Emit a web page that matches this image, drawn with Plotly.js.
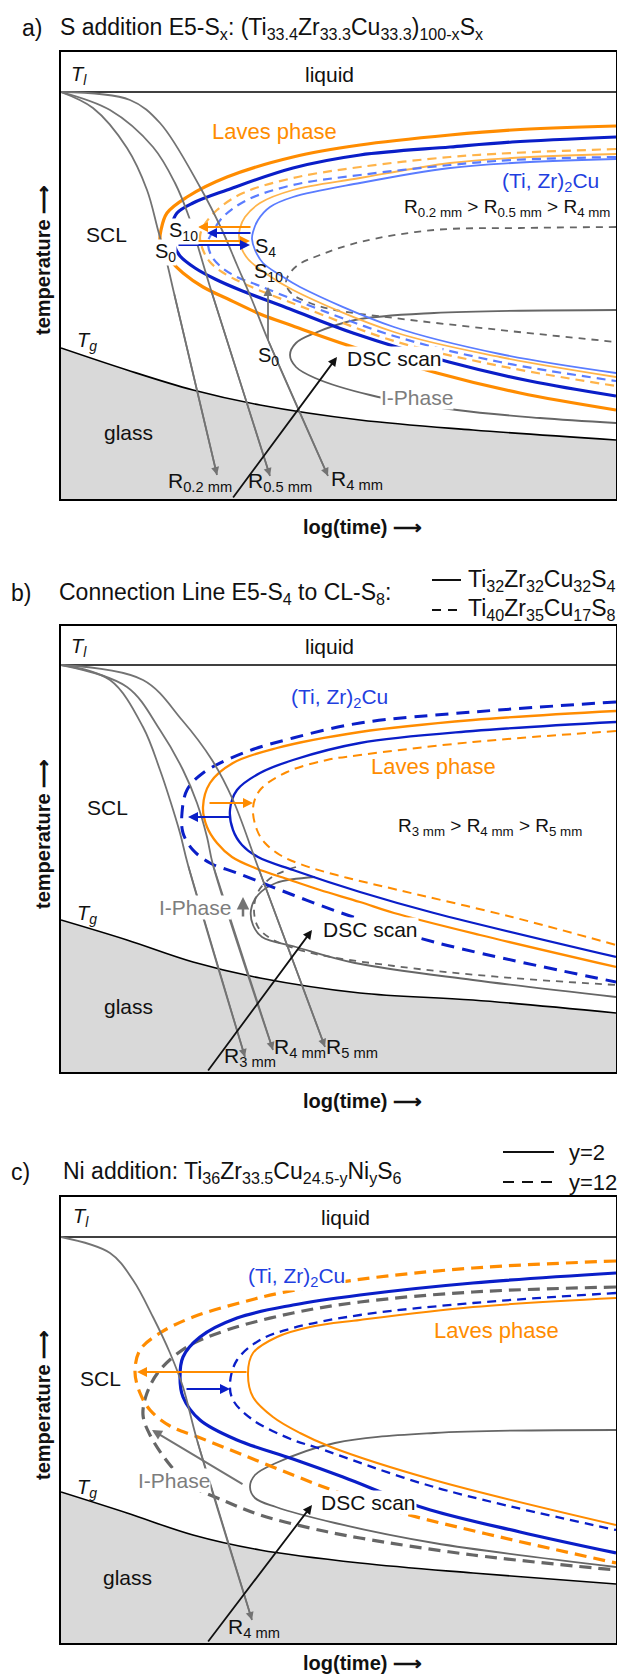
<!DOCTYPE html>
<html><head><meta charset="utf-8">
<script src="https://cdn.plot.ly/plotly-3.0.1.min.js"></script>
<style>html,body{margin:0;padding:0;background:#fff}</style>
</head><body><div id="chart" style="width:617px;height:1676px"></div>
<script>
// ================= DATA (schematic TTT diagrams, arbitrary units: log(time) 0..555, temperature 0..447) =================
// ---- Panel a: S addition ----
const aLiquidT = 407;
const aTg      = [[0,151],[66,129],[132,109],[199,94],[299,79],[412,69],[555,59]];
const aCoolR02 = [[0,407],[32,391],[66,351],[86,309],[97,269],[106,236],[113,206],[156,24]];
const aCoolR05 = [[0,407],[49,389],[92,352],[114,316],[128,282],[138,249],[150,209],[209,23]];
const aCoolR4  = [[0,407],[69,399],[99,376],[139,312],[161,269],[176,234],[191,199],[207,159],[267,23]];
const aLavesS0 = [[555,373],[451,369],[389,364],[299,354],[232,342],[166,322],[126,302],[106,286],[100,269],[99,259],[102,249],[109,239],[122,226],[142,212],[169,199],[199,185],[232,173],[286,154],[376,126],[459,106],[555,89]];
const aTi2CuS0 = [[555,362],[451,357],[389,352],[299,344],[232,331],[166,309],[132,296],[116,286],[111,274],[111,264],[113,254],[119,243],[134,231],[154,220],[179,209],[229,190],[292,166],[388,137],[469,118],[555,103]];
const aLavesS10= [[555,350],[451,346],[389,342],[299,332],[232,321],[182,306],[156,289],[142,272],[139,262],[142,249],[149,237],[161,227],[186,214],[239,193],[333,158],[439,133],[555,113]];
const aTi2CuS10= [[555,342],[451,339],[389,334],[299,324],[232,314],[186,299],[162,282],[151,266],[147,257],[150,244],[159,233],[174,223],[199,213],[239,197],[333,163],[439,137],[555,118]];
const aLavesS4 = [[555,345],[451,341],[389,336],[299,321],[232,309],[199,296],[184,282],[179,271],[178,263],[180,252],[187,240],[204,226],[232,209],[333,167],[439,142],[555,122]];
const aTi2CuS4 = [[555,340],[451,336],[389,331],[299,316],[232,302],[209,292],[197,279],[192,267],[191,260],[194,249],[202,236],[219,224],[239,212],[333,172],[439,145],[555,126]];
const aIphaseS0  = [[555,189],[373,186],[294,179],[254,166],[235,156],[229,144],[235,132],[254,121],[309,104],[396,89],[479,81],[555,76]];
const aIphaseS10 = [[555,272],[459,271],[373,269],[299,257],[259,244],[237,234],[227,223],[225,215],[231,205],[249,196],[274,189],[333,181],[439,169],[555,157]];
const aArrLavesBack = [[191,272],[137,272]];
const aArrTi2CuBack = [[191,266],[146,266]];
const aArrLavesFwd  = [[101,258],[189,258]];
const aArrTi2CuFwd  = [[116,254],[189,254]];
const aArrIphase    = [[207,157],[207,212]];
const aDSC          = [[171,0],[276,142]];

// ---- Panel b: connection line E5-S4 to CL-S8 ----
const bLiquidT = 407;
const bTg      = [[0,152],[66,132],[132,110],[199,94],[299,79],[412,72],[555,59]];
const bCoolR3  = [[0,407],[49,392],[82,345],[99,302],[109,272],[119,239],[127,207],[184,15]];
const bCoolR4  = [[0,407],[66,385],[99,342],[122,302],[136,269],[146,235],[152,207],[212,22]];
const bCoolR5  = [[0,407],[82,392],[121,352],[151,312],[172,272],[197,205],[264,25]];
const bTi2CuS8 = [[555,370],[412,360],[299,349],[232,334],[182,319],[142,299],[126,282],[121,259],[122,239],[132,222],[149,209],[176,199],[232,177],[292,155],[373,130],[555,90]];
const bLavesS4 = [[555,361],[412,352],[299,340],[216,324],[172,309],[149,289],[142,265],[146,245],[156,229],[171,215],[194,204],[229,192],[259,182],[299,170],[333,159],[419,137],[555,105]];
const bTi2CuS4 = [[555,350],[412,341],[299,329],[232,312],[199,299],[176,282],[169,262],[172,242],[181,227],[197,215],[232,202],[299,180],[373,159],[555,115]];
const bLavesS8 = [[555,341],[412,330],[299,317],[266,312],[226,300],[199,282],[192,264],[196,242],[204,229],[219,217],[239,208],[279,196],[333,183],[451,155],[555,127]];
const bIphaseS4 = [[254,195],[215,189],[197,177],[190,162],[192,147],[201,135],[235,125],[294,109],[412,92],[555,75]];
const bIphaseS8 = [[235,205],[211,195],[197,180],[193,162],[197,145],[209,134],[246,120],[333,106],[439,95],[555,87]];
const bArrLaves  = [[147,269],[192,269]];
const bArrTi2Cu  = [[171,255],[127,255]];
const bArrIphase = [[182,154],[182,175]];
const bDSC       = [[146,0],[251,142]];

// ---- Panel c: Ni addition ----
const cLiquidT = 406;
const cTg      = [[0,151],[66,130],[132,108],[199,93],[299,80],[412,70],[555,59]];
const cCoolR4  = [[0,406],[49,390],[72,363],[92,326],[109,290],[122,256],[136,203],[191,23]];
const cLavesY12  = [[555,382],[412,375],[294,363],[219,350],[182,341],[132,326],[99,310],[79,293],[74,271],[79,250],[89,233],[109,217],[137,206],[182,188],[232,168],[279,150],[341,130],[439,106],[555,80]];
const cIphaseY12 = [[555,356],[412,351],[299,341],[232,330],[166,313],[126,296],[99,273],[86,250],[82,228],[89,208],[109,178],[129,158],[166,141],[199,128],[249,115],[299,105],[412,88],[555,73]];
const cTi2CuY2   = [[555,370],[412,360],[299,348],[232,338],[176,325],[139,306],[122,286],[119,266],[122,246],[139,223],[176,203],[232,184],[282,166],[363,135],[459,111],[555,90]];
const cTi2CuY12  = [[555,350],[412,340],[299,328],[232,315],[199,303],[176,283],[169,260],[172,243],[192,223],[232,203],[254,196],[373,156],[555,113]];
const cLavesY2   = [[555,345],[412,336],[299,323],[249,316],[216,306],[192,290],[187,270],[192,246],[212,226],[239,210],[270,196],[373,163],[555,118]];
const cIphaseY2  = [[555,213],[373,210],[274,200],[215,180],[194,168],[189,156],[194,145],[215,136],[274,120],[373,100],[555,76]];
const cArrLaves  = [[187,271],[76,271]];
const cArrTi2Cu  = [[124,254],[169,254]];
const cArrIphase = [[183,158],[91,213]];
const cDSC       = [[146,0],[251,138]];

// ================= STYLE / LAYOUT =================
const W = 617, H = 1676, ML = 61, MR = 1;
const px = p => (p - ML) / (W - ML - MR);
const py = p => 1 - p / H;
const FONT = 'Liberation Sans, Arial, sans-serif';
const OR = '#ff8c00', ORL = '#ffb44a', BL = '#0a1ec8', BLL = '#5a7cff', GR = '#666666', GC = '#737373';
const TXTBL = '#1f3fe0', TXTGR = '#7d7d7d';

const traces = [];
const ann = [];
const shapes = [];
const ax = k => k === 1 ? ['x','y'] : ['x'+k,'y'+k];

function line(pts, color, width, dash, k, extra) {
  const [xa, ya] = ax(k);
  traces.push(Object.assign({
    x: pts.map(p => p[0]), y: pts.map(p => p[1]), xaxis: xa, yaxis: ya,
    mode: 'lines', line: {color, width, dash: dash || 'solid', shape: 'spline', smoothing: 1},
    hoverinfo: 'skip', showlegend: false
  }, extra || {}));
}
function arrow(seg, color, width, k, size) {
  const [xa, ya] = ax(k);
  ann.push({x: seg[1][0], y: seg[1][1], ax: seg[0][0], ay: seg[0][1], xref: xa, yref: ya, axref: xa, ayref: ya,
    text: '', showarrow: true, arrowhead: 2, arrowsize: size || 1, arrowwidth: width, arrowcolor: color, standoff: 0});
}
function headOf(pts, color, width, k) {
  arrow([pts[pts.length-2], pts[pts.length-1]], color, width, k, 1);
}
function lab(text, x, y, k, o) {
  const [xa, ya] = ax(k);
  o = o || {};
  ann.push({x, y, xref: xa, yref: ya, text, showarrow: false,
    font: {family: FONT, size: o.size || 20, color: o.color || '#111'},
    bgcolor: o.bg || 'rgba(0,0,0,0)', borderpad: 0, xanchor: o.xa || 'center', yanchor: 'middle'});
}
function plab(text, x, y, o) {
  o = o || {};
  ann.push({x: px(x), y: py(y), xref: 'paper', yref: 'paper', text, showarrow: false,
    font: {family: FONT, size: o.size || 20, color: o.color || '#111'},
    xanchor: o.xa || 'left', yanchor: 'middle', textangle: o.angle || 0});
}

// ---------- draw panel a ----------
line(aTg, '#000', 1.6, 'solid', 1, {fill: 'tozeroy', fillcolor: '#d9d9d9'});
line([[0,aLiquidT],[555,aLiquidT]], '#000', 1.6, 'solid', 1);
line(aIphaseS0, GR, 1.8, 'solid', 1);
line(aIphaseS10, GR, 1.8, '7px,6px', 1);
line(aTi2CuS4, BLL, 1.8, 'solid', 1);
line(aLavesS4, ORL, 1.8, 'solid', 1);
line(aTi2CuS10, BLL, 2.2, '9px,6px', 1);
line(aLavesS10, ORL, 2.2, '9px,6px', 1);
line(aTi2CuS0, BL, 3.2, 'solid', 1);
line(aLavesS0, OR, 3.2, 'solid', 1);
[aCoolR02, aCoolR05, aCoolR4].forEach(c => { line(c, GC, 1.8, 'solid', 1); headOf(c, GC, 1.6, 1); });
arrow(aArrLavesBack, OR, 2, 1); arrow(aArrTi2CuBack, BL, 2, 1);
arrow(aArrLavesFwd, OR, 2, 1); arrow(aArrTi2CuFwd, BL, 2, 1);
arrow(aArrIphase, GC, 1.8, 1); arrow(aDSC, '#111', 1.8, 1);
lab('<i>T<sub>l</sub></i>', 18, 423, 1, {size: 20});
lab('liquid', 268, 424, 1, {size: 21});
lab('SCL', 45, 264, 1, {size: 21});
lab('<i>T<sub>g</sub></i>', 26, 157, 1, {size: 20});
lab('glass', 67, 66, 1, {size: 21});
lab('Laves phase', 213, 367, 1, {size: 22, color: OR});
lab('(Ti, Zr)<sub>2</sub>Cu', 489, 317, 1, {size: 21, color: TXTBL});
lab('R<sub>0.2 mm</sub> > R<sub>0.5 mm</sub> > R<sub>4 mm</sub>', 446, 291, 1, {size: 19});
lab('S<sub>10</sub>', 122, 267, 1, {size: 20, bg: '#fff'});
lab('S<sub>0</sub>', 104, 246, 1, {size: 20, bg: '#fff'});
lab('S<sub>4</sub>', 204, 251, 1, {size: 20});
lab('S<sub>10</sub>', 207, 226, 1, {size: 20});
lab('S<sub>0</sub>', 207, 142, 1, {size: 20});
lab('DSC scan', 333, 140, 1, {size: 21, bg: '#fff'});
lab('I-Phase', 356, 101, 1, {size: 21, color: TXTGR, bg: '#fff'});
lab('R<sub>0.2 mm</sub>', 139, 17, 1, {size: 21});
lab('R<sub>0.5 mm</sub>', 219, 17, 1, {size: 21});
lab('R<sub>4 mm</sub>', 296, 19, 1, {size: 21});

// ---------- draw panel b ----------
line(bTg, '#000', 1.6, 'solid', 2, {fill: 'tozeroy', fillcolor: '#d9d9d9'});
line([[0,bLiquidT],[555,bLiquidT]], '#000', 1.6, 'solid', 2);
line(bIphaseS4, GR, 1.8, 'solid', 2);
line(bIphaseS8, GR, 1.8, '7px,6px', 2);
line(bLavesS8, OR, 2, '9px,6px', 2);
line(bTi2CuS4, BL, 2.3, 'solid', 2);
line(bLavesS4, OR, 2.3, 'solid', 2);
line(bTi2CuS8, BL, 3, '13px,8px', 2);
[bCoolR3, bCoolR4, bCoolR5].forEach(c => { line(c, GC, 1.8, 'solid', 2); headOf(c, GC, 1.6, 2); });
arrow(bArrLaves, OR, 2, 2); arrow(bArrTi2Cu, BL, 2, 2);
arrow(bDSC, '#111', 1.8, 2);
lab('<i>T<sub>l</sub></i>', 18, 424, 2, {size: 20});
lab('liquid', 268, 425, 2, {size: 21});
lab('SCL', 46, 264, 2, {size: 21});
lab('<i>T<sub>g</sub></i>', 26, 157, 2, {size: 20});
lab('glass', 67, 65, 2, {size: 21});
lab('(Ti, Zr)<sub>2</sub>Cu', 278, 374, 2, {size: 21, color: TXTBL});
lab('Laves phase', 372, 305, 2, {size: 22, color: OR});
lab('R<sub>3 mm</sub> > R<sub>4 mm</sub> > R<sub>5 mm</sub>', 429, 245, 2, {size: 19});
lab('I-Phase', 134, 164, 2, {size: 21, color: TXTGR, bg: '#fff'});
arrow(bArrIphase, GC, 2.5, 2);
lab('DSC scan', 309, 142, 2, {size: 21, bg: '#fff'});
lab('R<sub>3 mm</sub>', 189, 15, 2, {size: 21});
lab('R<sub>4 mm</sub>', 239, 24, 2, {size: 21});
lab('R<sub>5 mm</sub>', 291, 24, 2, {size: 21});

// ---------- draw panel c ----------
line(cTg, '#000', 1.6, 'solid', 3, {fill: 'tozeroy', fillcolor: '#d9d9d9'});
line([[0,cLiquidT],[555,cLiquidT]], '#000', 1.6, 'solid', 3);
line(cIphaseY2, GR, 1.8, 'solid', 3);
line(cLavesY2, OR, 2, 'solid', 3);
line(cTi2CuY12, BL, 2.3, '9px,6px', 3);
line(cIphaseY12, GR, 3.2, '12px,7px', 3);
line(cTi2CuY2, BL, 3.2, 'solid', 3);
line(cLavesY12, OR, 3.2, '12px,7px', 3);
line(cCoolR4, GC, 1.8, 'solid', 3); headOf(cCoolR4, GC, 1.6, 3);
arrow(cArrLaves, OR, 2, 3); arrow(cArrTi2Cu, BL, 2, 3);
arrow(cArrIphase, GC, 2, 3);
arrow(cDSC, '#111', 1.8, 3);
lab('<i>T<sub>l</sub></i>', 20, 426, 3, {size: 20});
lab('liquid', 284, 426, 3, {size: 21});
lab('SCL', 39, 265, 3, {size: 21});
lab('<i>T<sub>g</sub></i>', 26, 155, 3, {size: 20});
lab('glass', 66, 66, 3, {size: 21});
lab('(Ti, Zr)<sub>2</sub>Cu', 235, 366, 3, {size: 21, color: TXTBL, bg: '#fff'});
lab('Laves phase', 435, 313, 3, {size: 22, color: OR});
lab('I-Phase', 113, 163, 3, {size: 21, color: TXTGR, bg: '#fff'});
lab('DSC scan', 307, 141, 3, {size: 21, bg: '#fff'});
lab('R<sub>4 mm</sub>', 193, 15, 3, {size: 21});

// ---------- titles, axis labels, legends (paper) ----------
plab('a)', 20, 28, {size: 23});
plab('S addition E5-S<sub>x</sub>: (Ti<sub>33.4</sub>Zr<sub>33.3</sub>Cu<sub>33.3</sub>)<sub>100-x</sub>S<sub>x</sub>', 58, 28, {size: 23});
plab('b)', 9, 593, {size: 23});
plab('Connection Line E5-S<sub>4</sub> to CL-S<sub>8</sub>:', 57, 593, {size: 23});
plab('Ti<sub>32</sub>Zr<sub>32</sub>Cu<sub>32</sub>S<sub>4</sub>', 466, 580, {size: 23});
plab('Ti<sub>40</sub>Zr<sub>35</sub>Cu<sub>17</sub>S<sub>8</sub>', 466, 610, {size: 23});
plab('c)', 9, 1172, {size: 23});
plab('Ni addition: Ti<sub>36</sub>Zr<sub>33.5</sub>Cu<sub>24.5-y</sub>Ni<sub>y</sub>S<sub>6</sub>', 61, 1172, {size: 23});
plab('y=2', 567, 1152, {size: 22});
plab('y=12', 567, 1182, {size: 22});
[[52,527],[626,1101],[1197,1663]].forEach(([top, xl]) => {
  plab('<b>temperature ⟶</b>', 43, top + 208, {size: 20, angle: -90, xa: 'center'});
  plab('<b>log(time) ⟶</b>', 362, xl, {size: 20, xa: 'center'});
});
function pshape(x0, x1, y, dash) {
  shapes.push({type: 'line', xref: 'paper', yref: 'paper', x0: px(x0), x1: px(x1), y0: py(y), y1: py(y),
    line: {color: '#111', width: 2, dash}});
}
pshape(432, 461, 580, 'solid'); pshape(432, 461, 610, '9px,7px');
pshape(503, 554, 1152, 'solid'); pshape(503, 554, 1182, '11px,8px');

const axBase = {showline: true, mirror: true, linecolor: '#000', linewidth: 2, showgrid: false,
  zeroline: false, showticklabels: false, ticks: '', fixedrange: true};
const layout = {
  width: W, height: H, margin: {l: ML, r: MR, t: 0, b: 0}, paper_bgcolor: '#fff', plot_bgcolor: '#fff',
  showlegend: false, font: {family: FONT},
  xaxis:  Object.assign({}, axBase, {domain: [0,1], range: [0,555], anchor: 'y'}),
  yaxis:  Object.assign({}, axBase, {domain: [py(499), py(52)], range: [0,447], anchor: 'x'}),
  xaxis2: Object.assign({}, axBase, {domain: [0,1], range: [0,555], anchor: 'y2'}),
  yaxis2: Object.assign({}, axBase, {domain: [py(1072), py(626)], range: [0,446], anchor: 'x2'}),
  xaxis3: Object.assign({}, axBase, {domain: [0,1], range: [0,555], anchor: 'y3'}),
  yaxis3: Object.assign({}, axBase, {domain: [py(1643), py(1197)], range: [0,446], anchor: 'x3'}),
  annotations: ann, shapes: shapes
};
Plotly.newPlot('chart', traces, layout, {staticPlot: true, displayModeBar: false});
</script></body></html>
